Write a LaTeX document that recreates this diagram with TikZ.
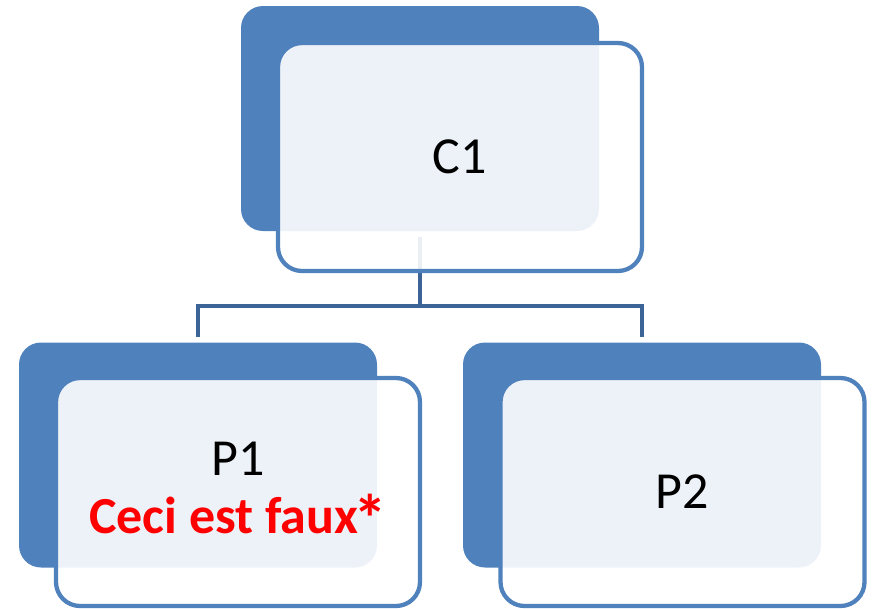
\documentclass[tikz,border=0pt]{standalone}
\usepackage{fontspec}
\usepackage{graphicx}
\setmainfont{Carlito}
\definecolor{accent}{RGB}{79,129,189}
\definecolor{linkblue}{RGB}{60,100,150}
\newcommand{\bigstar}{\kern-0.1em\raisebox{-0.17em}{\scalebox{1.3}{*}}}
\begin{document}
\begin{tikzpicture}[x=0.75pt,y=-0.75pt,
  backbox/.style={fill=accent, draw=none, rounded corners=16.5pt,
    minimum width=268.5pt, minimum height=168.75pt, inner sep=0pt, outer sep=0pt},
  frontbox/.style={fill=white, fill opacity=0.9, text opacity=1, draw=accent,
    line width=3.2pt, rounded corners=18pt, minimum width=273pt, minimum height=171pt,
    inner sep=0pt, outer sep=0pt, align=center,
    font=\fontsize{39}{43.5}\selectfont},
  conn/.style={draw=linkblue, line width=3pt, line join=miter}]
  \useasboundingbox (0,0) rectangle (872,608);

  % back (filled) shapes
  \node[backbox] (c1back) at (420,118.5) {};
  \node[backbox] (p1back) at (198,455) {};
  \node[backbox] (p2back) at (642,455) {};

  % tree connectors
  \coordinate (hub) at (420,306);
  \draw[conn, shorten <=4.5pt] (c1back.south) -- (hub);
  \draw[conn, shorten <=4.5pt, shorten >=4.5pt] (p1back.north) |- (hub) -| (p2back.north);

  % front (outlined) shapes with labels
  \node[frontbox] (c1) at (460,157) {C1};
  \node[frontbox] (p1) at (238,492) {P1\\{\bfseries\color{red}Ceci est faux\bigstar}};
  \node[frontbox] (p2) at (682.5,492) {P2};
\end{tikzpicture}
\end{document}
